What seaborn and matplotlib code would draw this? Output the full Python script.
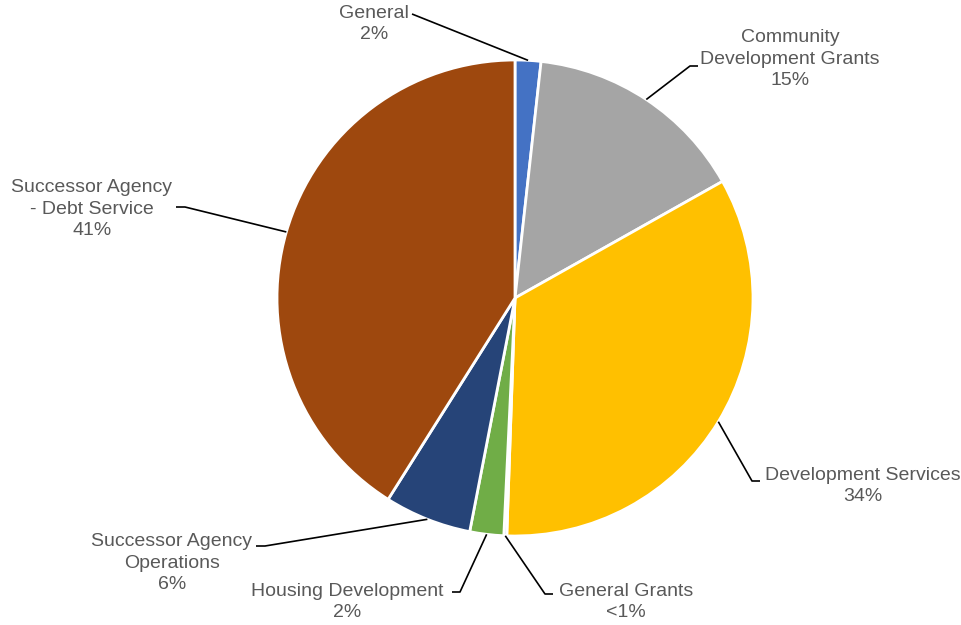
import numpy as np
import matplotlib
matplotlib.use("Agg")
import matplotlib.pyplot as plt
import seaborn as sns

# budget share by fund
funds = ["General", "Community\nDevelopment Grants", "Development Services",
         "General Grants", "Housing Development", "Successor Agency\nOperations",
         "Successor Agency\n- Debt Service"]
shares = [1.75, 15.1, 33.7, 0.2, 2.3, 5.9, 41.05]
pct_labels = ["2%", "15%", "34%", "<1%", "2%", "6%", "41%"]
colors = sns.color_palette(["#4472C4", "#A5A5A5", "#FFC000", "#5B9BD5",
                            "#70AD47", "#264478", "#9E480E"])

# layout (pixel units, y measured from top of image)
W, H = 962, 625
cx, cy, r = 515, 298, 238
text_pos = [(374, 24), (790, 59), (863, 486), (626, 602), (347, 602), (172, 563), (92, 209)]
elbows = [(412, 14), (690, 66), (752, 481), (545, 594), (460, 592), (265, 546), (185, 207)]
stubs = [(412, 14), (698, 66), (760, 481), (553, 594), (452, 592), (256, 546), (176, 207)]

sns.set_theme(style="white")
plt.rcParams["font.family"] = ["Liberation Sans", "DejaVu Sans"]

fig = plt.figure(figsize=(W / 100, H / 100), dpi=100)
ax = fig.add_axes([0, 0, 1, 1])

ax.pie(shares, colors=colors, startangle=90, counterclock=False,
       center=(cx, H - cy), radius=r,
       wedgeprops=dict(edgecolor="white", linewidth=2))
ax.set_xlim(0, W)
ax.set_ylim(0, H)
ax.set_aspect("equal")
ax.axis("off")

# leader lines from wedge mid-angle to label
total = sum(shares)
cum = np.cumsum([0] + shares[:-1])
for i, s in enumerate(shares):
    theta = np.deg2rad((cum[i] + s / 2) / total * 360)
    ax_ = cx + r * np.sin(theta)
    ay_ = H - cy + r * np.cos(theta)
    ex, ey = elbows[i]
    sx, sy = stubs[i]
    ax.plot([ax_, ex, sx], [ay_, H - ey, H - sy], color="black", lw=1.2,
            solid_capstyle="butt", zorder=3)
    tx, ty = text_pos[i]
    ax.text(tx, H - ty, funds[i] + "\n" + pct_labels[i], ha="center", va="center",
            fontsize=14, color="#595959", linespacing=1.38)

plt.savefig("out.png", dpi=100)
